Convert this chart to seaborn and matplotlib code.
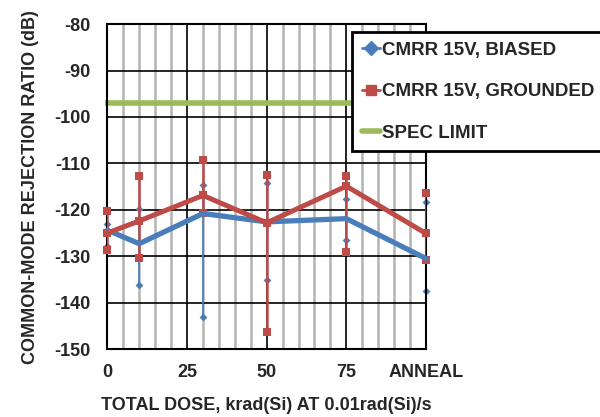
import pandas as pd
import matplotlib.pyplot as plt
import seaborn as sns
from matplotlib.lines import Line2D

# total dose (ANNEAL plotted at 100)
doses = [0, 10, 30, 50, 75, 100]
tick_pos = [0, 25, 50, 75, 100]
tick_labels = ["0", "25", "50", "75", "ANNEAL"]

biased_mean = [-124.4, -127.3, -120.8, -122.6, -121.9, -130.5]
biased_max = [-123.0, -119.9, -114.7, -114.2, -117.6, -118.3]
biased_min = [-127.8, -136.2, -143.2, -135.2, -126.4, -137.4]

grounded_mean = [-125.0, -122.4, -116.9, -122.8, -114.9, -125.1]
grounded_max = [-120.2, -112.8, -109.2, -112.4, -112.7, -116.4]
grounded_min = [-128.7, -130.3, -120.7, -146.4, -129.1, -130.9]

spec_limit = -97

blue = "#4A7EBB"
red = "#BE4B48"
green = "#9BBB59"

sns.set_style("white")
plt.rcParams["font.family"] = ["Liberation Sans", "DejaVu Sans"]
plt.rcParams["font.weight"] = "bold"
plt.rcParams["axes.unicode_minus"] = False

biased = pd.DataFrame({"dose": doses, "cmrr": biased_mean})
grounded = pd.DataFrame({"dose": doses, "cmrr": grounded_mean})

fig = plt.figure(figsize=(6, 4.17), dpi=100)
ax = fig.add_axes([0.179, 0.163, 0.531, 0.779])

# grid: grey minor every 5, black major
for xv in range(5, 100, 5):
    if xv % 25:
        ax.axvline(xv, color="#B3B3B3", lw=1.8, zorder=0)
for xv in [25, 50, 75]:
    ax.axvline(xv, color="black", lw=1.2, zorder=0.5)
for yv in range(-140, -80, 10):
    ax.axhline(yv, color="black", lw=1.2, zorder=0.5)

ax.plot([-0.8, 100], [spec_limit, spec_limit], color=green, lw=4,
        zorder=1, clip_on=False, solid_capstyle="butt")

# error bars with marker caps
ax.vlines(doses, biased_min, biased_max, color=blue, lw=1.2, zorder=2)
ax.scatter(doses + doses, biased_min + biased_max, marker="D", s=16,
           color=blue, zorder=2, linewidths=0, clip_on=False)
ax.vlines(doses, grounded_min, grounded_max, color=red, lw=1.8, zorder=3)
ax.scatter(doses + doses, grounded_min + grounded_max, marker="s", s=30,
           color=red, zorder=3, linewidths=0, clip_on=False)

sns.lineplot(data=biased, x="dose", y="cmrr", color=blue, linewidth=3.8,
             ax=ax, zorder=4, clip_on=False)
sns.lineplot(data=grounded, x="dose", y="cmrr", color=red, linewidth=3.6,
             marker="s", markersize=5.5, markeredgewidth=0,
             ax=ax, zorder=5, clip_on=False)

ax.set_xlim(0, 100)
ax.set_ylim(-150, -80)
ax.set_xticks(tick_pos)
ax.set_xticklabels(tick_labels)
ax.set_yticks(range(-150, -79, 10))
ax.tick_params(axis="y", length=0, labelsize=13, pad=12)
ax.tick_params(axis="x", length=0, labelsize=13, pad=11)
for lab in ax.get_xticklabels() + ax.get_yticklabels():
    lab.set_fontweight("bold")
for sp in ax.spines.values():
    sp.set_color("black")
    sp.set_linewidth(1.5)

ax.set_xlabel("TOTAL DOSE, krad(Si) AT 0.01rad(Si)/s", fontsize=13,
              fontweight="bold", labelpad=11)
ax.set_ylabel("COMMON-MODE REJECTION RATIO (dB)", fontsize=13,
              fontweight="bold", labelpad=11)

handles = [
    Line2D([], [], color=blue, lw=2, marker="D", markersize=7),
    Line2D([], [], color=red, lw=2, marker="s", markersize=7),
    Line2D([], [], color=green, lw=4),
]
labels = ["CMRR 15V, BIASED", "CMRR 15V, GROUNDED", "SPEC LIMIT"]
leg = fig.legend(handles, labels, loc="upper left",
                 bbox_to_anchor=(0.587, 0.923), fontsize=13.5,
                 handlelength=1.0, handletextpad=0.1, labelspacing=1.3,
                 borderpad=0.5, borderaxespad=0, fancybox=False,
                 framealpha=1, edgecolor="black")
leg.get_frame().set_linewidth(2)
for t in leg.get_texts():
    t.set_fontweight("bold")

fig.savefig("out.png", dpi=100)
